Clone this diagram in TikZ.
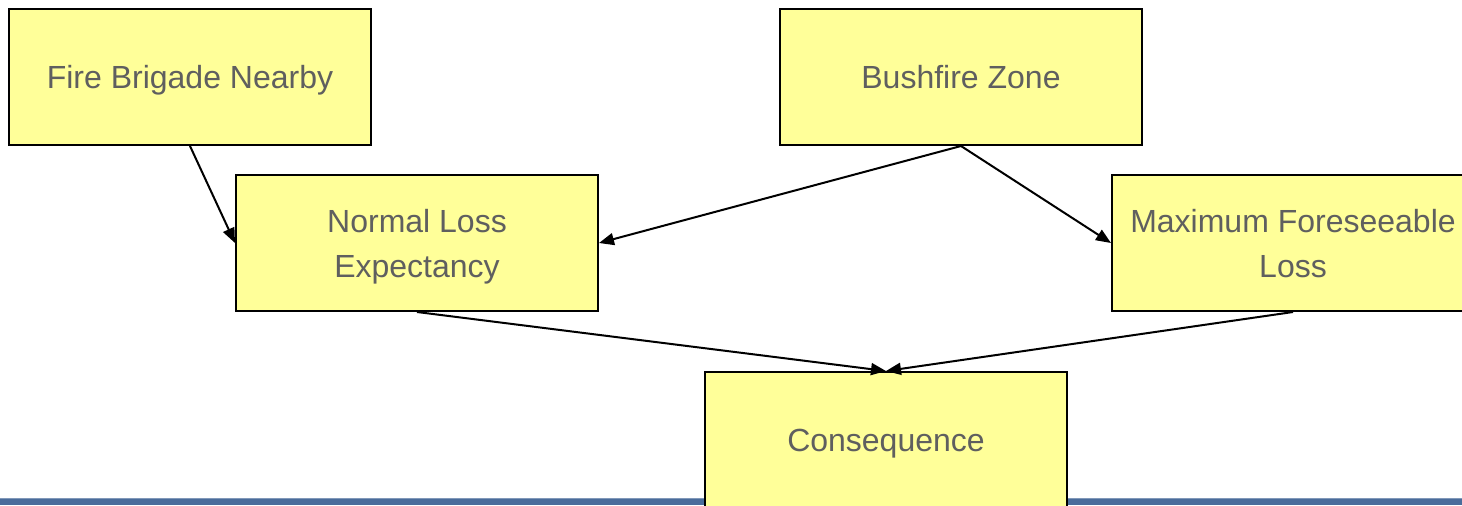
\documentclass[tikz,border=0pt]{standalone}
\usepackage{fontspec}
\setmainfont{Liberation Sans}
\usetikzlibrary{arrows.meta}
\definecolor{boxfill}{HTML}{FFFF99}
\definecolor{boxtext}{HTML}{5F5F5F}
\definecolor{barblue}{HTML}{4A6C9B}
\begin{document}
\begin{tikzpicture}[x=0.5pt,y=-0.5pt,
  factor/.style={draw=black, line width=1pt, fill=boxfill, text=boxtext,
    minimum width=181pt, minimum height=68pt, inner sep=0pt, align=center,
    text depth=0pt, font=\fontsize{16}{22.5}\selectfont},
  link/.style={line width=1pt, -{Triangle[length=7.5pt,width=6pt]}}]
  \useasboundingbox (0,0) rectangle (1462,505);
  \clip (0,0) rectangle (1462,505);
  % footer band
  \fill[barblue] (0,498) rectangle (1462,505);
  \fill[barblue!70!white] (0,497.5) rectangle (1462,499);
  % factors
  \node[factor] (fire) at (190,77) {Fire Brigade Nearby};
  \node[factor] (bush) at (961,77) {Bushfire Zone};
  \node[factor] (nle) at (417,243) {Normal Loss\\Expectancy};
  \node[factor] (mfl) at (1293,243) {Maximum Foreseeable\\Loss};
  \node[factor] (cons) at (886,440) {Consequence};
  % influences
  \draw[link] (fire.south) -- (nle.west);
  \draw[link] (bush.south) -- (nle.east);
  \draw[link] (bush.south) -- (mfl.west);
  \draw[link] (nle.south) -- (cons.north);
  \draw[link] (mfl.south) -- (cons.north);
\end{tikzpicture}
\end{document}
